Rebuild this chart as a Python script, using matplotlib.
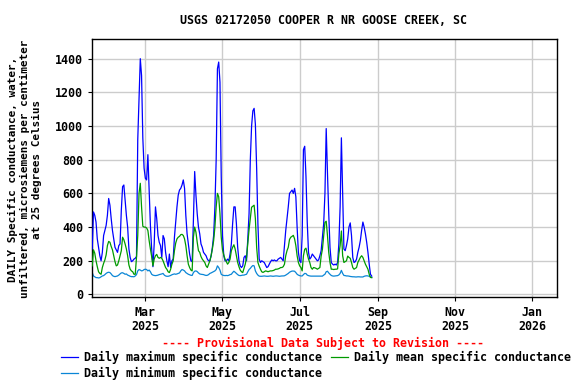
import numpy as np
import matplotlib
matplotlib.use("Agg")
import matplotlib.pyplot as plt
import matplotlib.dates as mdates
from matplotlib.lines import Line2D

start_date = "2025-01-18"

daily_max = [
    270, 490, 470, 430, 330, 280, 230, 200, 250, 350,
    380, 410, 470, 570, 530, 450, 380, 330, 280, 265,
    250, 290, 300, 500, 640, 650, 560, 470, 400, 270,
    220, 195, 200, 210, 215, 225, 920, 1150, 1400, 1300,
    930, 750, 690, 680, 830, 620, 410, 270, 165, 300,
    520, 450, 350, 310, 290, 220, 350, 330, 250, 200,
    165, 240, 160, 200, 210, 340, 430, 520, 590, 620,
    630, 650, 680, 630, 470, 360, 300, 240, 200, 195,
    440, 730, 590, 480, 400, 360, 300, 280, 250, 240,
    230, 210, 200, 200, 230, 280, 350, 520, 800, 1340,
    1380, 1260, 700, 350, 230, 200, 200, 210, 200, 240,
    300, 420, 520, 520, 420, 280, 200, 170, 160, 170,
    220, 230, 200, 330, 480, 800, 1000, 1090, 1105, 1010,
    750, 420, 210, 190, 200, 195, 190, 175, 160, 165,
    180, 195, 205, 200, 205, 200, 200, 210, 215, 220,
    210, 200, 290, 380, 450, 520, 600, 610, 620, 600,
    630, 580, 400, 250, 200, 190, 350, 860, 880, 700,
    430, 250, 210, 220, 240, 230, 220, 210, 200, 205,
    230, 260, 340, 420, 600, 985, 720, 480, 280, 190,
    180, 175, 180, 175, 190, 300, 520, 930, 600, 270,
    260, 290, 330, 400, 425, 350, 220, 190, 195, 210,
    250, 280, 320, 380, 430, 400, 360, 310, 250, 180,
    120, 109,
]

daily_mean = [
    170, 265, 245, 200, 165, 135, 125, 120, 160, 185,
    205, 235, 290, 315, 310, 285, 265, 230, 195, 170,
    175, 200, 230, 260, 340, 325, 300, 270, 230, 175,
    150, 140, 135, 120, 120, 220, 350, 600, 660, 520,
    405, 400, 400, 395, 380, 320, 270, 225, 170, 210,
    230, 238, 220, 215, 220, 215, 200, 180, 160, 150,
    135, 130, 150, 180, 200, 260, 305, 330, 340, 345,
    355, 357, 350, 330, 290, 230, 180, 160, 145, 140,
    340, 400, 370, 310, 260, 250, 225, 210, 200, 190,
    170, 160, 180, 200, 230, 270, 320, 400, 520, 600,
    580, 480, 340, 265, 235, 210, 195, 180, 190, 210,
    260, 280, 295, 270, 230, 190, 165, 145, 135, 130,
    155, 180, 220, 300, 385, 450, 518, 524, 530, 450,
    280, 190, 168, 150, 135, 131, 135, 140, 138, 135,
    138, 140, 140, 142, 145, 150, 150, 152, 155, 160,
    160, 165, 180, 230, 260, 280, 327, 340, 345, 351,
    330, 290, 230, 190, 170, 160, 140, 230, 268, 275,
    240, 210, 190, 160, 150, 160, 158, 155, 150, 155,
    160, 228, 268, 347, 428, 435, 350, 250, 190, 150,
    150, 148, 150, 150, 152, 240, 290, 377, 230, 190,
    195, 200, 228, 220, 215, 190, 160, 150, 155, 160,
    190, 205, 220, 230, 220, 200, 180, 165, 150, 120,
    101, 100,
]

daily_min = [
    130, 110, 105, 100, 100, 98, 100, 105, 110, 112,
    118, 125, 130, 132, 130, 122, 112, 108, 106, 108,
    110, 115, 122, 128, 129, 125, 120, 122, 115, 112,
    108, 106, 106, 105, 110, 118, 140, 148, 145, 140,
    142, 148, 150, 148, 140, 145, 135, 120, 115, 113,
    112, 113, 115, 118, 120, 122, 125, 115, 110, 108,
    108, 110, 113, 117, 120, 122, 120, 122, 125, 128,
    140, 148, 145, 140, 130, 125, 120, 117, 114, 113,
    130, 138, 140, 136, 128, 122, 120, 119, 118, 115,
    113, 114, 118, 125, 128, 132, 136, 140, 148, 170,
    160, 145, 120, 115, 113, 112, 113, 112, 114, 118,
    120, 130, 138, 132, 125, 118, 113, 112, 113, 115,
    115, 118, 120, 135, 148, 155, 165, 172, 170, 140,
    125, 115, 109, 108, 108, 109, 110, 109, 108, 108,
    109, 110, 109, 108, 109, 110, 110, 109, 108, 109,
    110, 110, 111, 115, 120, 125, 132, 136, 139, 139,
    138, 130, 120, 115, 112, 110, 110, 118, 125, 124,
    115, 112, 110, 109, 109, 109, 109, 109, 109, 109,
    109, 109, 109, 115, 120, 135, 138, 128, 120, 113,
    110, 109, 110, 111, 112, 116, 125, 143, 125, 113,
    112, 110, 110, 109, 107, 106, 105, 105, 104, 104,
    105, 105, 104, 104, 104, 108, 110, 111, 110, 108,
    104, 101,
]

y_ticks = [0, 200, 400, 600, 800, 1000, 1200, 1400]

title = "USGS 02172050 COOPER R NR GOOSE CREEK, SC"
ylabel = ("DAILY Specific conductance, water,\n"
          "unfiltered, microsiemens per centimeter\n"
          "at 25 degrees Celsius")
provisional = "---- Provisional Data Subject to Revision ----"
legend_labels = ["Daily maximum specific conductance",
                 "Daily mean specific conductance",
                 "Daily minimum specific conductance"]
colors = ["#0000ff", "#009a00", "#0a86d6"]

dates = np.datetime64(start_date) + np.arange(len(daily_max))

W, H = 576, 384
fig = plt.figure(figsize=(W / 100, H / 100), dpi=100)
ax = fig.add_axes([91.7 / W, 1 - 296.5 / H, (556.5 - 91.7) / W, (296.5 - 39.3) / H])

font = dict(family="DejaVu Sans Mono", weight="bold")
fs = 8.4

ax.plot(dates, daily_max, color=colors[0], lw=0.9, zorder=3)
ax.plot(dates, daily_mean, color=colors[1], lw=0.9, zorder=4)
ax.plot(dates, daily_min, color=colors[2], lw=0.9, zorder=2)

x0 = mdates.date2num(np.datetime64("2025-01-17T14:00"))
x1 = mdates.date2num(np.datetime64("2026-01-20T02:00"))
ax.set_xlim(x0, x1)
ax.set_ylim(-12, 1515)
ax.set_yticks(y_ticks)
ax.xaxis.set_major_locator(mdates.MonthLocator(bymonth=[1, 3, 5, 7, 9, 11]))
ax.xaxis.set_major_formatter(mdates.DateFormatter("%b\n%Y"))

ax.grid(True, color="#cccccc", lw=1.0, zorder=0)
ax.set_axisbelow(True)
for s in ax.spines.values():
    s.set_linewidth(1.0)
    s.set_color("black")

ax.tick_params(axis="both", direction="out", length=3, width=0.8, colors="black")
ax.tick_params(axis="y", pad=3)
ax.tick_params(axis="x", pad=4)
for lab in ax.get_xticklabels() + ax.get_yticklabels():
    lab.set_fontfamily("DejaVu Sans Mono")
    lab.set_fontweight("bold")
    lab.set_fontsize(fs)
for lab in ax.get_xticklabels():
    lab.set_linespacing(1.05)

fig.text(324 / W, 1 - 20 / H, title, ha="center", va="center", fontsize=fs, **font)
fig.text(25 / W, 1 - 169 / H, ylabel, ha="center", va="center", rotation=90,
         fontsize=7.9, linespacing=1.2, **font)
fig.text(323 / W, 1 - 343 / H, provisional, ha="center", va="center",
         fontsize=fs, color="#ff0000", **font)

legend_pos = [(61, 78, 84, 357), (331, 348, 354, 357), (61, 78, 84, 373)]
for (xa, xb, xt, yy), lbl, c in zip(legend_pos, legend_labels, colors):
    fig.add_artist(Line2D([xa / W, xb / W], [1 - yy / H, 1 - yy / H],
                          color=c, lw=0.9, transform=fig.transFigure))
    fig.text(xt / W, 1 - yy / H, lbl, ha="left", va="center", fontsize=fs, **font)

fig.savefig("out.png", dpi=100)
